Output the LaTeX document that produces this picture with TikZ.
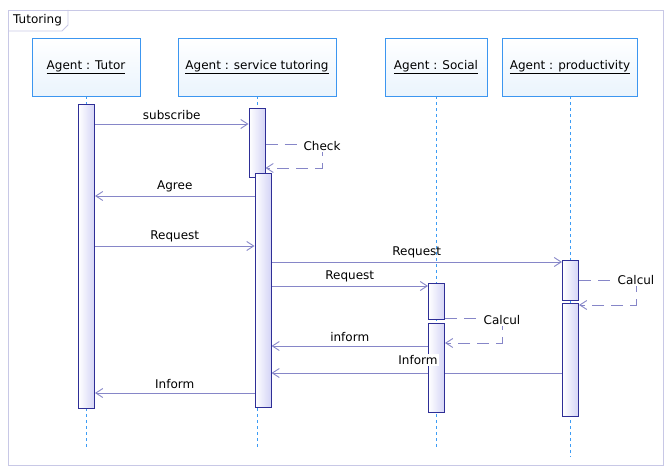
\documentclass[tikz,border=0pt]{standalone}
\usepackage{fontspec}
\setmainfont{DejaVu Sans}
\usetikzlibrary{arrows.meta}

\definecolor{framecol}{HTML}{C8C8E6}
\definecolor{headline}{HTML}{3C96F0}
\definecolor{headfill}{HTML}{EAF4FD}
\definecolor{lifecol}{HTML}{3C9CF5}
\definecolor{actline}{HTML}{2E2E96}
\definecolor{actfill}{HTML}{D4D4F6}
\definecolor{msgcol}{HTML}{8686C8}

\pgfdeclarelayer{bg}
\pgfsetlayers{bg,main}

\tikzset{
    head/.style={draw=headline, line width=0.9pt, top color=white, bottom color=headfill,
        minimum height=58pt, inner sep=0pt, font=\fontsize{12}{14}\selectfont},
    lifeline/.style={draw=lifecol, line width=1pt, dash pattern=on 3pt off 3pt},
    activation/.style={draw=actline, line width=1pt, left color=white, right color=actfill,
        minimum width=16pt, inner sep=0pt, anchor=north},
    msg/.style={draw=msgcol, line width=0.9pt, -{Straight Barb[length=7pt,width=9pt]}},
    selfmsg/.style={msg, dash pattern=on 12pt off 7pt},
    msglabel/.style={font=\fontsize{12}{14}\selectfont, inner sep=1pt, text=black}
}

\begin{document}
\begin{tikzpicture}[x=1pt, y=-1pt]
    \useasboundingbox (0,0) rectangle (667,468);

    % Frame
    \draw[framecol, line width=0.8pt] (8,10) rectangle (663,465);
    \draw[framecol, line width=0.8pt] (8,31) -- (62,31) -- (68,25) -- (68,10);
    \node[msglabel, anchor=west] (title) at (12,20) {Tutoring};

    % Lifeline heads
    \foreach \name/\x/\w/\yend/\txt in {tutor/86/108/450/Agent : Tutor,
        serv/257/158/450/Agent : service tutoring,
        social/436/102/450/Agent : Social,
        prod/570/135/457/Agent : productivity} {
        \node[head, minimum width=\w pt] (\name) at (\x,67) {\underline{\txt}};
        \begin{pgfonlayer}{bg}
            \draw[lifeline] (\name.south) -- (\name.south |- 0,\yend);
        \end{pgfonlayer}
    }

    % Activations
    \node[activation, minimum height=304pt] (actT) at (86.5,104) {};
    \node[activation, minimum height=69pt] (actS1) at (257,108) {};
    \node[activation, minimum height=234pt] (actS2) at (263,173) {};
    \node[activation, minimum height=36pt] (actSo1) at (436.5,283) {};
    \node[activation, minimum height=89pt] (actSo2) at (436.5,323) {};
    \node[activation, minimum height=40pt] (actP1) at (570.5,260) {};
    \node[activation, minimum height=113pt] (actP2) at (570.5,303) {};

    % Messages
    \begin{pgfonlayer}{bg}
        \draw[msg] (actT.east |- 0,124) -- node[msglabel, above=3pt] {subscribe} (actS1.west |- 0,124);
        \draw[msg] (actS2.west |- 0,196) -- node[msglabel, above=3pt] {Agree} (actT.east |- 0,196);
        \draw[msg] (actT.east |- 0,246) -- node[msglabel, above=3pt] {Request} (actS2.west |- 0,246);
        \draw[msg] (actS2.east |- 0,262) -- node[msglabel, above=3pt] {Request} (actP1.west |- 0,262);
        \draw[msg] (actS2.east |- 0,286) -- node[msglabel, above=3pt] {Request} (actSo1.west |- 0,286);
        \draw[msg] (actSo2.west |- 0,346) -- node[msglabel, above=3pt] {inform} (actS2.east |- 0,346);
        \draw[msg] (actP2.west |- 0,373) -- (actS2.east |- 0,373);
        \draw[msg] (actS2.west |- 0,393) -- node[msglabel, above=3pt] {Inform} (actT.east |- 0,393);
    \end{pgfonlayer}
    \node[msglabel, fill=white] (inform) at (418,360) {Inform};

    % Self calls
    \draw[selfmsg] (actS1.east |- 0,144) -- (322,144)
        node[msglabel, fill=white, yshift=-2pt] (check) {Check} -- (322,168) -- (actS1.east |- 0,168);
    \draw[selfmsg] (actSo1.east |- 0,318) -- (502,318)
        node[msglabel, fill=white, yshift=-2pt] (calcS) {Calcul} -- (502,343) -- (actSo2.east |- 0,343);
    \draw[selfmsg] (actP1.east |- 0,280) -- (636,280)
        node[msglabel, fill=white] (calcP) {Calcul} -- (636,305) -- (actP2.east |- 0,305);
\end{tikzpicture}
\end{document}
